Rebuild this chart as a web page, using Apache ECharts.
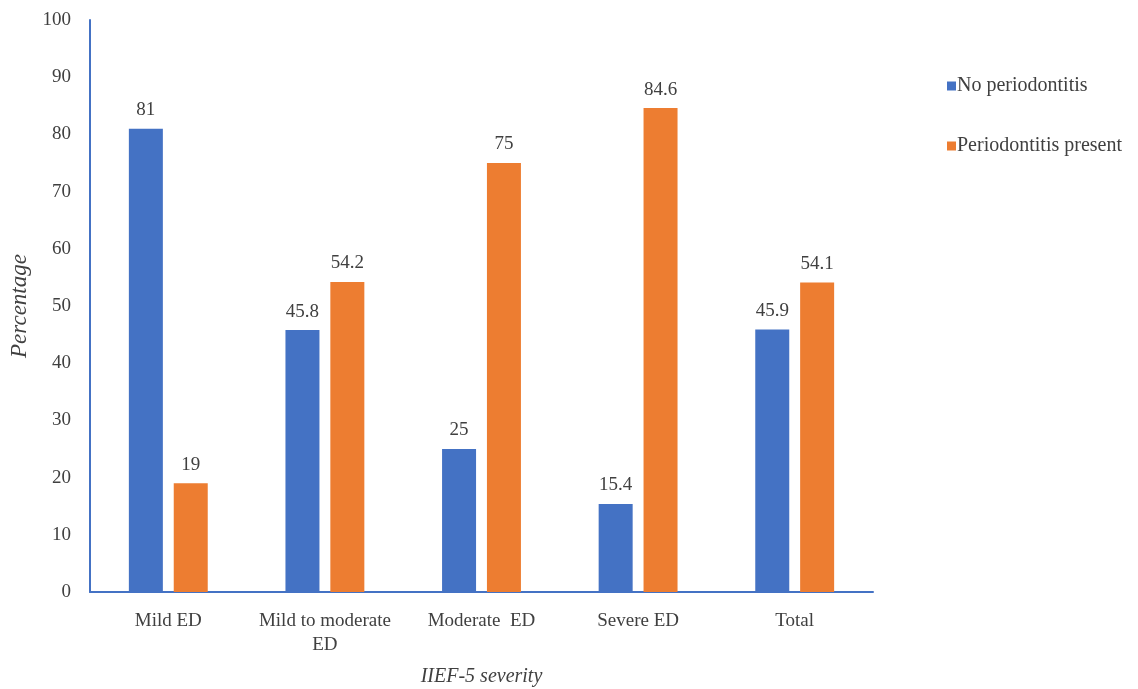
<!DOCTYPE html>
<html><head><meta charset="utf-8">
<script src="https://cdn.jsdelivr.net/npm/echarts@6/dist/echarts.min.js"></script>
<style>html,body{margin:0;padding:0;background:#fff}#c{width:1138px;height:689px}</style>
</head><body><div id="c"></div>
<script>
const categories = ["Mild ED", "Mild to moderate\nED", "Moderate  ED", "Severe ED", "Total"];
const noPerio = [81, 45.8, 25, 15.4, 45.9];
const perioPresent = [19, 54.2, 75, 84.6, 54.1];
const seriesNames = ["No periodontitis", "Periodontitis present"];
const yTicks = [0, 10, 20, 30, 40, 50, 60, 70, 80, 90, 100];

const font = "'Liberation Serif', 'Times New Roman', serif";
const txt = '#404040';
const chart = echarts.init(document.getElementById('c'));
chart.setOption({
  animation: false,
  textStyle: { fontFamily: font },
  grid: { left: 90, right: 265, top: 20, bottom: 97, containLabel: false, outerBoundsMode: 'none' },
  legend: {
    orient: 'vertical', left: 942, top: 71, itemWidth: 9, itemHeight: 9, itemGap: 40,
    icon: 'rect',
    textStyle: { fontFamily: font, fontSize: 20, color: txt, padding: [0, 0, 0, -4] },
    data: seriesNames
  },
  xAxis: {
    type: 'category', data: categories,
    name: 'IIEF-5 severity', nameLocation: 'middle', nameGap: 75,
    nameTextStyle: { fontFamily: font, fontSize: 20, fontStyle: 'italic', color: txt },
    axisLine: { lineStyle: { color: '#4472C4', width: 2 } },
    axisTick: { show: false },
    axisLabel: { fontFamily: font, fontSize: 19, color: txt, margin: 17, lineHeight: 24, interval: 0 }
  },
  yAxis: {
    type: 'value', min: yTicks[0], max: yTicks[yTicks.length - 1], interval: 10,
    name: 'Percentage', nameLocation: 'middle', nameGap: 58, nameRotate: 90,
    nameTextStyle: { fontFamily: font, fontSize: 23, fontStyle: 'italic', color: txt },
    axisLine: { show: true, lineStyle: { color: '#4472C4', width: 2 } },
    axisTick: { show: false },
    splitLine: { show: false },
    axisLabel: { fontFamily: font, fontSize: 19, color: txt, margin: 19 }
  },
  series: [
    { name: seriesNames[0], type: 'bar', data: noPerio, barWidth: 34, barGap: '32%',
      itemStyle: { color: '#4472C4' },
      label: { show: true, position: 'top', distance: 9, fontFamily: font, fontSize: 19, color: txt } },
    { name: seriesNames[1], type: 'bar', data: perioPresent, barWidth: 34,
      itemStyle: { color: '#ED7D31' },
      label: { show: true, position: 'top', distance: 9, fontFamily: font, fontSize: 19, color: txt } }
  ]
});
</script></body></html>
